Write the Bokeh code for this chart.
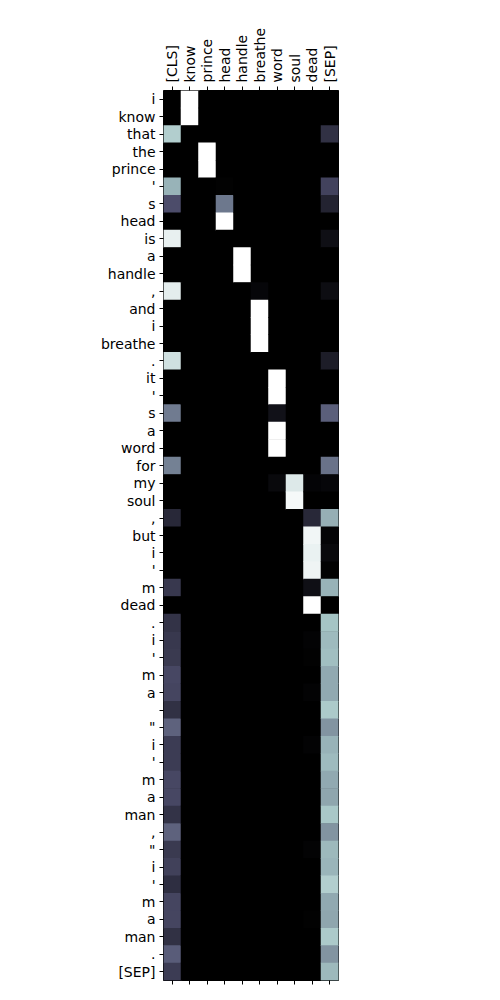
import numpy as np
from bokeh.plotting import figure
from bokeh.models import (ColumnDataSource, LinearColorMapper, FixedTicker,
                          Range1d, LinearAxis)
from bokeh.transform import transform
from bokeh.embed import file_html
from bokeh.resources import INLINE

# ---- data ----
col_labels = ["[CLS]", "know", "prince", "head", "handle", "breathe",
              "word", "soul", "dead", "[SEP]"]
row_labels = ["i", "know", "that", "the", "prince", "'", "s", "head", "is", "a",
              "handle", ",", "and", "i", "breathe", ".", "it", "'", "s", "a",
              "word", "for", "my", "soul", ",", "but", "i", "'", "m", "dead",
              ".", "i", "'", "m", "a", "", "\"", "i", "'", "m",
              "a", "man", ",", "\"", "i", "'", "m", "a", "man", ".",
              "[SEP]"]

w_cls = [0, 0, 0.78, 0, 0, 0.68, 0.34, 0, 0.93, 0,
         0, 0.92, 0, 0, 0, 0.86, 0, 0, 0.50, 0,
         0, 0.52, 0, 0, 0.18, 0, 0, 0, 0.25, 0,
         0.23, 0.25, 0.26, 0.32, 0.31, 0.22, 0.42, 0.27, 0.27, 0.32,
         0.32, 0.23, 0.42, 0.26, 0.29, 0.21, 0.31, 0.31, 0.22, 0.40,
         0.27]
w_know = [1.0, 1.0] + [0] * 49
w_prince = [0, 0, 0, 1.0, 1.0] + [0] * 46
w_head = [0, 0, 0, 0, 0, 0.01, 0.49, 1.0] + [0] * 43
w_handle = [0] * 9 + [1.0, 1.0] + [0] * 40
w_breathe = [0] * 11 + [0.03, 1.0, 1.0, 1.0] + [0] * 36
w_word = [0] * 16 + [1.0, 1.0, 0.08, 1.0, 1.0, 0, 0.04] + [0] * 28
w_soul = [0] * 22 + [0.90, 0.97] + [0] * 27
w_dead = [0] * 22 + [0.02, 0, 0.18, 0.96, 0.94, 0.95, 0.07, 1.0,
                     0, 0.015, 0.01, 0, 0.015, 0, 0, 0.015, 0, 0,
                     0, 0, 0, 0.015, 0, 0, 0, 0.01, 0, 0, 0]
w_sep = [0, 0, 0.22, 0, 0, 0.30, 0.16, 0, 0.07, 0,
         0, 0.06, 0, 0, 0, 0.13, 0, 0, 0.41, 0,
         0, 0.47, 0.03, 0, 0.67, 0.02, 0.04, 0.01, 0.68, 0,
         0.74, 0.71, 0.72, 0.65, 0.65, 0.76, 0.58, 0.68, 0.71, 0.65,
         0.64, 0.75, 0.58, 0.70, 0.69, 0.78, 0.65, 0.64, 0.76, 0.58,
         0.70]

columns = [w_cls, w_know, w_prince, w_head, w_handle, w_breathe,
           w_word, w_soul, w_dead, w_sep]

# ---- bone colormap palette (style) ----
def _interp(x, pts):
    xs = [p[0] for p in pts]
    ys = [p[1] for p in pts]
    return float(np.interp(x, xs, ys))

def bone_palette(n=256):
    R = [(0, 0), (0.746032, 0.652778), (1, 1)]
    G = [(0, 0), (0.365079, 0.319444), (0.746032, 0.777778), (1, 1)]
    B = [(0, 0), (0.365079, 0.444444), (1, 1)]
    pal = []
    for i in range(n):
        t = i / (n - 1)
        r, g, b = (_interp(t, R), _interp(t, G), _interp(t, B))
        pal.append("#%02x%02x%02x" % (round(r * 255), round(g * 255), round(b * 255)))
    return pal

xs, ys, vs = [], [], []
for ci, colvals in enumerate(columns):
    for ri, v in enumerate(colvals):
        xs.append(ci)
        ys.append(ri)
        vs.append(v)
src = ColumnDataSource(dict(x=xs, y=ys, v=vs))

mapper = LinearColorMapper(palette=bone_palette(), low=0, high=1)

nrows = len(row_labels)
ncols = len(col_labels)

p = figure(frame_width=175, frame_height=890,
           x_range=Range1d(-0.5, ncols - 0.5),
           y_range=Range1d(nrows - 0.5, -0.5),
           x_axis_location="above",
           min_border_left=163, min_border_right=162,
           min_border_top=90, min_border_bottom=20,
           output_backend="svg", toolbar_location=None,
           background_fill_color="black", border_fill_color="white")

p.rect(x="x", y="y", width=1.03, height=1.03, source=src,
       fill_color=transform("v", mapper), line_color=None, dilate=True)

p.grid.visible = False
p.outline_line_color = "black"
p.outline_line_width = 1

font = "DejaVu Sans"

xa = p.xaxis[0]
xa.ticker = FixedTicker(ticks=list(range(ncols)))
xa.major_label_overrides = {i: lab for i, lab in enumerate(col_labels)}
xa.major_label_orientation = np.pi / 2

ya = p.yaxis[0]
ya.ticker = FixedTicker(ticks=list(range(nrows)))
ya.major_label_overrides = {i: (lab if lab else " ") for i, lab in enumerate(row_labels)}

xb = LinearAxis(ticker=FixedTicker(ticks=list(range(ncols))))
xb.major_label_text_alpha = 0
p.add_layout(xb, "below")

for ax in (xa, ya, xb):
    ax.axis_line_color = None
    ax.major_tick_out = 4
    ax.major_tick_in = 0
    ax.major_tick_line_color = "black"
    ax.major_tick_line_width = 1
    ax.minor_tick_line_color = None
    ax.major_label_text_font = font
    ax.major_label_text_font_size = "14px"
    ax.major_label_text_color = "black"
    ax.major_label_standoff = 4

out = file_html(p, INLINE)
open("out.html", "w").write(out)
